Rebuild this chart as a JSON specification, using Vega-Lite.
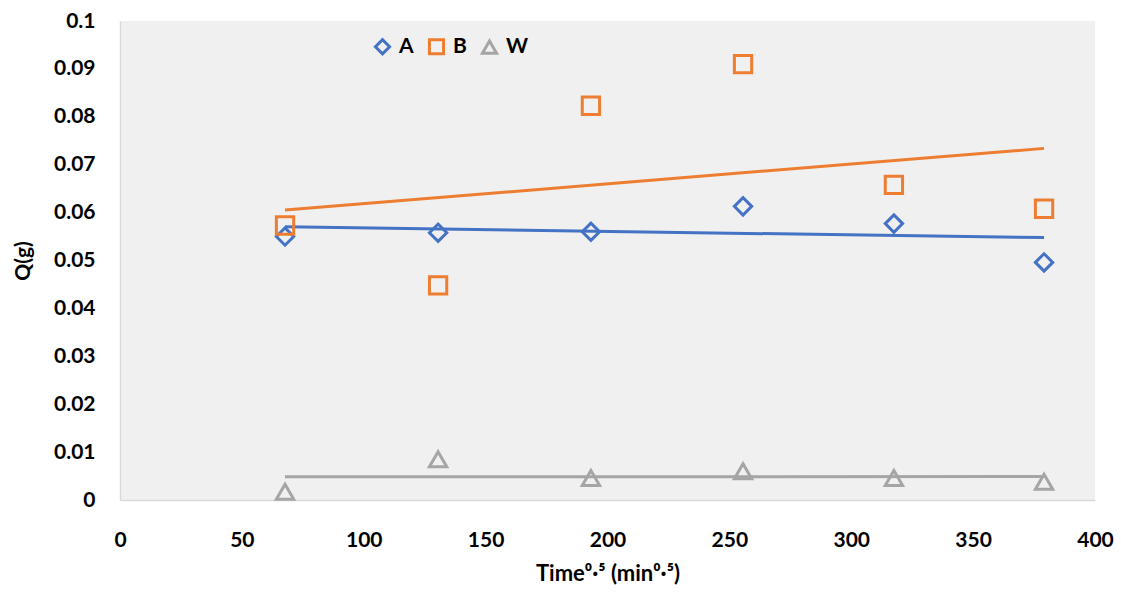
{
  "$schema": "https://vega.github.io/schema/vega-lite/v6.json",
  "autosize": {"type": "none"},
  "width": 975,
  "height": 479,
  "padding": {"left": 120, "top": 21, "right": 26, "bottom": 94},
  "background": "white",
  "config": {
    "font": "Lato",
    "view": {"fill": "#f0f0f0", "stroke": null},
    "axis": {
      "labelFont": "Lato", "labelFontWeight": "bold", "labelFontSize": 21, "labelColor": "#000000",
      "titleFont": "Lato", "titleFontWeight": "bold", "titleFontSize": 21, "titleColor": "#000000",
      "grid": false, "ticks": false, "domainColor": "#d9d9d9", "domainWidth": 1.5
    }
  },
  "data": {
    "values": [
      {"Time": 67.7, "Q": 0.0550, "series": "A"},
      {"Time": 130.5, "Q": 0.0558, "series": "A"},
      {"Time": 193.2, "Q": 0.0560, "series": "A"},
      {"Time": 255.6, "Q": 0.0613, "series": "A"},
      {"Time": 317.5, "Q": 0.0577, "series": "A"},
      {"Time": 379.1, "Q": 0.0496, "series": "A"},
      {"Time": 67.7, "Q": 0.0573, "series": "B"},
      {"Time": 130.5, "Q": 0.0448, "series": "B"},
      {"Time": 193.2, "Q": 0.0823, "series": "B"},
      {"Time": 255.6, "Q": 0.0910, "series": "B"},
      {"Time": 317.5, "Q": 0.0658, "series": "B"},
      {"Time": 379.1, "Q": 0.0608, "series": "B"},
      {"Time": 67.7, "Q": 0.0017, "series": "W"},
      {"Time": 130.5, "Q": 0.0085, "series": "W"},
      {"Time": 193.2, "Q": 0.0046, "series": "W"},
      {"Time": 255.6, "Q": 0.0060, "series": "W"},
      {"Time": 317.5, "Q": 0.0046, "series": "W"},
      {"Time": 379.1, "Q": 0.0038, "series": "W"}
    ]
  },
  "encoding": {
    "x": {
      "field": "Time", "type": "quantitative",
      "scale": {"domain": [0, 400], "nice": false, "zero": true},
      "axis": {"values": [0, 50, 100, 150, 200, 250, 300, 350, 400], "labelPadding": 29, "title": "Time⁰·⁵ (min⁰·⁵)", "titlePadding": 13, "titleFontSize": 22, "labelFlush": false}
    },
    "y": {
      "field": "Q", "type": "quantitative",
      "scale": {"domain": [0, 0.1], "nice": false},
      "axis": {"values": [0, 0.01, 0.02, 0.03, 0.04, 0.05, 0.06, 0.07, 0.08, 0.09, 0.1], "format": ".2~f", "labelPadding": 25, "title": "Q(g)", "titlePadding": 20}
    }
  },
  "layer": [
    {
      "transform": [{"filter": "datum.series === 'A'"}, {"regression": "Q", "on": "Time", "method": "linear"}],
      "mark": {"type": "line", "strokeWidth": 3, "color": "#4472C4"},
      "encoding": {}
    },
    {
      "transform": [{"filter": "datum.series === 'B'"}, {"regression": "Q", "on": "Time", "method": "linear"}],
      "mark": {"type": "line", "strokeWidth": 3, "color": "#ED7D31"},
      "encoding": {}
    },
    {
      "transform": [{"filter": "datum.series === 'W'"}, {"regression": "Q", "on": "Time", "method": "linear"}],
      "mark": {"type": "line", "strokeWidth": 3, "color": "#A5A5A5"},
      "encoding": {}
    },
    {
      "mark": {"type": "point", "filled": false, "strokeWidth": 3, "size": 300, "opacity": 1},
      "encoding": {
        "color": {
          "field": "series", "type": "nominal",
          "scale": {"domain": ["A", "B", "W"], "range": ["#4472C4", "#ED7D31", "#A5A5A5"]},
          "legend": {
            "title": null, "orient": "none", "direction": "horizontal", "legendX": 252, "legendY": 15,
            "labelFont": "Lato", "labelFontWeight": "bold", "labelFontSize": 21, "labelColor": "#000000",
            "symbolSize": 200, "symbolStrokeWidth": 3, "columnPadding": 9, "labelOffset": 6
          }
        },
        "shape": {
          "field": "series", "type": "nominal",
          "scale": {"domain": ["A", "B", "W"], "range": ["diamond", "square", "triangle-up"]},
          "legend": {
            "title": null, "orient": "none", "direction": "horizontal", "legendX": 252, "legendY": 15,
            "labelFont": "Lato", "labelFontWeight": "bold", "labelFontSize": 21, "labelColor": "#000000",
            "symbolSize": 200, "symbolStrokeWidth": 3, "columnPadding": 9, "labelOffset": 6
          }
        }
      }
    }
  ]
}
